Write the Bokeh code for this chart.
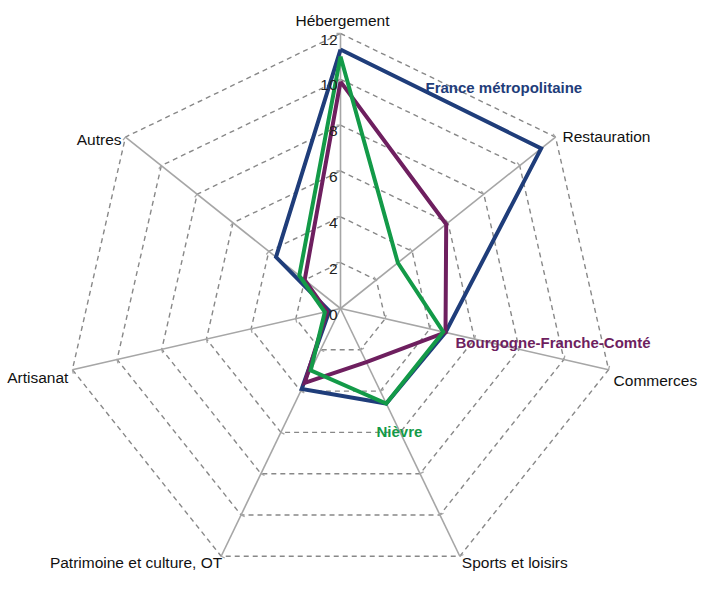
import math
from bokeh.plotting import figure
from bokeh.models import Range1d
from bokeh.core.properties import value
from bokeh.embed import file_html
from bokeh.resources import INLINE

categories = ["Hébergement", "Restauration", "Commerces", "Sports et loisirs",
              "Patrimoine et culture, OT", "Artisanat", "Autres"]
france = [11.3, 11.2, 4.7, 4.6, 3.9, 0.5, 3.6]
bfc = [9.9, 5.9, 4.7, 2.6, 3.6, 0.6, 2.0]
nievre = [11.0, 3.2, 4.6, 4.6, 3.0, 0.7, 2.3]
series_names = ["France métropolitaine", "Bourgogne-Franche-Comté", "Nièvre"]
ring_values = [2, 4, 6, 8, 10, 12]
tick_labels = ["0", "2", "4", "6", "8", "10", "12"]
rmax = 12

# styles
colors = ["#1F3D7A", "#6E1F5F", "#139A48"]
FONT = "Liberation Sans"
W, H = 698, 576
cx, cy = 340, 308          # centre in figure pixels
s = 275.0 / rmax           # pixels per unit

p = figure(width=W, height=H, output_backend="svg", toolbar_location=None,
           x_range=Range1d(-cx / s, (W - cx) / s),
           y_range=Range1d(-(H - cy) / s, cy / s),
           min_border=0, outline_line_color=None)
p.axis.visible = False
p.grid.visible = False
p.background_fill_color = "white"

n = len(categories)
angles = [math.pi / 2 - 2 * math.pi * i / n for i in range(n)]

def pt(r, a):
    return r * math.cos(a), r * math.sin(a)

# rings
for rv in ring_values:
    xs = [pt(rv, a)[0] for a in angles] + [pt(rv, angles[0])[0]]
    ys = [pt(rv, a)[1] for a in angles] + [pt(rv, angles[0])[1]]
    p.line(xs, ys, line_color="#888888", line_width=1.4, line_dash="5 4")

# spokes
for a in angles:
    x1, y1 = pt(rmax, a)
    p.line([0, x1], [0, y1], line_color="#a6a6a6", line_width=1.6)
    tl = 4.0 / s
    for rv in ring_values:
        bx, by = pt(rv, a)
        px, py = -math.sin(a), math.cos(a)
        p.line([bx, bx + px * tl], [by, by + py * tl], line_color="#a6a6a6", line_width=1.3)

# series
for vals, col in zip([france, bfc, nievre], colors):
    xs = [pt(v, a)[0] for v, a in zip(vals, angles)]
    ys = [pt(v, a)[1] for v, a in zip(vals, angles)]
    xs.append(xs[0]); ys.append(ys[0])
    p.line(xs, ys, line_color=col, line_width=4, line_join="miter")

# tick labels along the top spoke
tv = [0] + ring_values
p.text(x=[0] * len(tv), y=tv, text=tick_labels, text_align="right",
       text_baseline="middle", x_offset=-3, y_offset=6,
       text_font=value(FONT), text_font_size="15.5px", text_color="#222222")

# category labels
lab_align = ["center", "left", "left", "left", "right", "right", "right"]
lab_base = ["bottom", "middle", "middle", "top", "top", "middle", "middle"]
lab_dx = [2, 7, 5, 2, 1, -4, -4]
lab_dy = [-5, -1, 11, -2, -2, 8, 2]
lx = [pt(rmax, a)[0] for a in angles]
ly = [pt(rmax, a)[1] for a in angles]
for i in range(n):
    p.text(x=[lx[i]], y=[ly[i]], text=[categories[i]], text_align=lab_align[i],
           text_baseline=lab_base[i], x_offset=lab_dx[i], y_offset=lab_dy[i],
           text_font=value(FONT), text_font_size="15.5px", text_color="#111111")

# series labels (screen offsets from the centre, pixels)
sl_dx = [85, 115, 36]
sl_dy = [-221, 34, 123]
for name, col, dx, dy in zip(series_names, colors, sl_dx, sl_dy):
    p.text(x=[0], y=[0], text=[name], text_align="left", text_baseline="middle",
           x_offset=dx, y_offset=dy, text_font=value(FONT), text_font_size="15px",
           text_font_style="bold", text_color=col)

open("out.html", "w").write(file_html(p, INLINE))
